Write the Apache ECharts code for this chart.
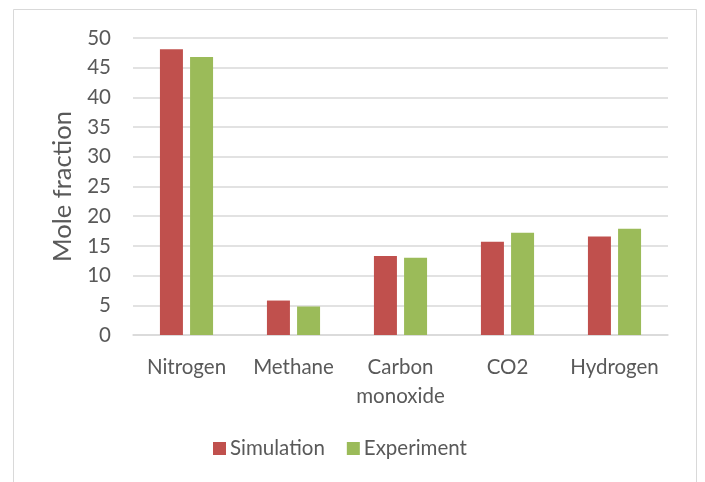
<!DOCTYPE html>
<html>
<head>
<meta charset="utf-8">
<script src="https://cdn.jsdelivr.net/npm/echarts@6/dist/echarts.min.js"></script>
<style>
    html, body { margin: 0; padding: 0; background: #fff; }
    #chart { width: 705px; height: 482px; }
</style>
</head>
<body>
<div id="chart"></div>
<script>
// categories and values
var categories = ['Nitrogen', 'Methane', 'Carbon\nmonoxide', 'CO2', 'Hydrogen'];
var simulation = [48.1, 5.8, 13.3, 15.7, 16.6];
var experiment = [46.8, 4.8, 13.0, 17.2, 17.9];
var yTicks = [0, 5, 10, 15, 20, 25, 30, 35, 40, 45, 50];

var font = 'Lato, "Noto Sans", sans-serif';
var textColor = '#595959';
var gridColor = '#d9d9d9';

var myChart = echarts.init(document.getElementById('chart'));
var option = {
    backgroundColor: '#fff',
    animation: false,
    // outer frame of the chart area
    graphic: [{
        type: 'rect',
        shape: { x: 13.5, y: 9.5, width: 683, height: 480 },
        style: { fill: 'none', stroke: gridColor, lineWidth: 1 },
        silent: true
    }],
    grid: {
        left: 133,
        right: 37,
        top: 38,
        bottom: 147
    },
    legend: {
        data: ['Simulation', 'Experiment'],
        bottom: 18,
        left: 208,
        itemWidth: 13,
        itemHeight: 13,
        itemGap: 22,
        icon: 'rect',
        textStyle: { fontFamily: font, fontSize: 20.5, color: textColor, padding: [0, 0, 0, -1] }
    },
    xAxis: {
        type: 'category',
        data: categories,
        axisLine: { lineStyle: { color: gridColor, width: 1.5 } },
        axisTick: { show: false },
        axisLabel: {
            fontFamily: font,
            fontSize: 20.5,
            color: textColor,
            margin: 18,
            lineHeight: 29,
            interval: 0
        }
    },
    yAxis: {
        type: 'value',
        min: yTicks[0],
        max: yTicks[yTicks.length - 1],
        interval: 5,
        name: 'Mole fraction',
        nameLocation: 'middle',
        nameGap: 57,
        nameTextStyle: { fontFamily: font, fontSize: 25.5, color: textColor },
        axisLine: { show: false },
        axisTick: { show: false },
        axisLabel: { fontFamily: font, fontSize: 20.5, color: textColor, margin: 22 },
        splitLine: { lineStyle: { color: gridColor, width: 1.5 } }
    },
    series: [
        {
            name: 'Simulation',
            type: 'bar',
            data: simulation,
            barWidth: 23,
            barGap: '31%',
            itemStyle: { color: '#c0504d' }
        },
        {
            name: 'Experiment',
            type: 'bar',
            data: experiment,
            barWidth: 23,
            itemStyle: { color: '#9bbb59' }
        }
    ]
};
myChart.setOption(option);
</script>
</body>
</html>
